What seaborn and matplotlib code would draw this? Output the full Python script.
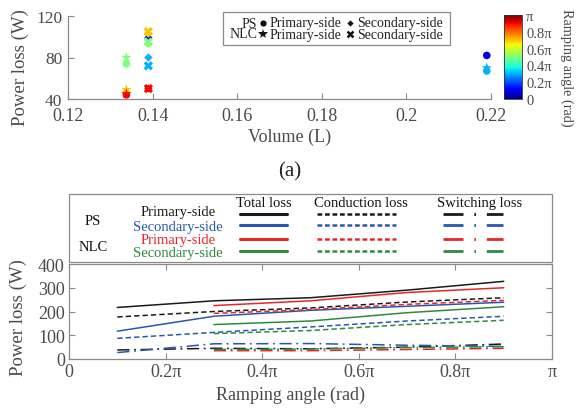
import numpy as np
import pandas as pd
import matplotlib
matplotlib.use("Agg")
import matplotlib.pyplot as plt
import seaborn as sns
from matplotlib.lines import Line2D
from matplotlib.patches import Rectangle
from matplotlib.colors import Normalize
from matplotlib.cm import ScalarMappable

# ---------------- data: (a) loss vs. volume ----------------
ps_pri_angle = [0.1, 0.3, 0.5, 0.7, 0.9]          # x pi rad
ps_pri_vol = [0.219, 0.219, 0.1338, 0.1338, 0.1338]
ps_pri_loss = [82, 67, 74, 46, 44]

ps_sec_angle = [0.1, 0.3, 0.5, 0.7, 0.9]
ps_sec_vol = [0.139, 0.139, 0.139, 0.139, 0.139]
ps_sec_loss = [99, 80, 93, 103, 50]

nlc_pri_angle = [0.3, 0.5, 0.7, 0.9]
nlc_pri_vol = [0.219, 0.1338, 0.1338, 0.1338]
nlc_pri_loss = [70, 80, 49, 45]

nlc_sec_angle = [0.3, 0.5, 0.7, 0.9]
nlc_sec_vol = [0.139, 0.139, 0.139, 0.139]
nlc_sec_loss = [72, 95, 105, 50]

vol_ticks = [0.12, 0.14, 0.16, 0.18, 0.20, 0.22]
vol_ticklabels = ["0.12", "0.14", "0.16", "0.18", "0.2", "0.22"]
loss_ticks_a = [40, 80, 120]
cbar_ticks = [0, 0.2, 0.4, 0.6, 0.8, 1.0]
cbar_ticklabels = ["0", "0.2π", "0.4π", "0.6π", "0.8π", "π"]

# ---------------- data: (b) loss vs. ramping angle ----------------
ps_angle = [0.1, 0.3, 0.5, 0.7, 0.9]     # x pi rad
nlc_angle = [0.3, 0.5, 0.7, 0.9]

ps_pri_total = [217, 245, 258, 290, 327]
ps_sec_total = [117, 180, 205, 222, 239]
nlc_pri_total = [225, 245, 280, 300]
nlc_sec_total = [145, 160, 195, 220]

ps_pri_cond = [177, 200, 215, 240, 258]
ps_sec_cond = [87, 112, 135, 160, 180]
nlc_pri_cond = [192, 208, 230, 247]
nlc_sec_cond = [107, 120, 145, 163]

ps_pri_sw = [38, 45, 43, 50, 63]
ps_sec_sw = [27, 64, 65, 58, 53]
nlc_pri_sw = [35, 35, 40, 45]
nlc_sec_sw = [40, 42, 48, 52]

angle_ticks = [0, 0.2, 0.4, 0.6, 0.8, 1.0]
angle_ticklabels = ["0", "0.2π", "0.4π", "0.6π", "0.8π", "π"]
loss_ticks_b = [0, 100, 200, 300, 400]

# ---------------- style ----------------
sns.set_theme(style="ticks")
plt.rcParams["font.family"] = ["Liberation Serif", "DejaVu Sans"]

W, H = 579, 410
fig = plt.figure(figsize=(W / 100, H / 100), dpi=100)


def fx(x):
    return x / W


def fy(y):
    return 1 - y / H


SPINE = "#8a8a8a"
TXT = "#4a4a4a"
C_BLACK = "#1a1a1a"
C_BLUE = "#2a56b0"
C_RED = "#e8262a"
C_GREEN = "#2f8a3c"
JET = matplotlib.colormaps["jet"]

# ---------------- (a) scatter ----------------
ax1 = fig.add_axes([fx(68), fy(100), fx(491) - fx(68), fy(17) - fy(100)])
norm = Normalize(0, 1)

groups = [
    (ps_pri_vol, ps_pri_loss, ps_pri_angle, "o", 30),
    (ps_sec_vol, ps_sec_loss, ps_sec_angle, "D", 18),
    (nlc_pri_vol, nlc_pri_loss, nlc_pri_angle, "*", 60),
    (nlc_sec_vol, nlc_sec_loss, nlc_sec_angle, "X", 45),
]
for vol, loss, ang, mk, sz in groups:
    df = pd.DataFrame({"vol": vol, "loss": loss, "angle": ang})
    sns.scatterplot(data=df, x="vol", y="loss", hue="angle", palette=JET,
                    hue_norm=norm, marker=mk, s=sz, linewidth=0,
                    legend=False, ax=ax1, zorder=3)

ax1.set_xlim(0.12, 0.22)
ax1.set_ylim(40, 120)
ax1.set_xticks(vol_ticks)
ax1.set_xticklabels(vol_ticklabels)
ax1.set_yticks(loss_ticks_a)
ax1.set_xlabel("")
ax1.set_ylabel("")
for s in ["top", "right"]:
    ax1.spines[s].set_visible(False)
for s in ["left", "bottom"]:
    ax1.spines[s].set_color(SPINE)
    ax1.spines[s].set_linewidth(0.9)
ax1.tick_params(direction="in", length=4, width=0.8, color=SPINE,
                labelsize=13, labelcolor=TXT)
ax1.tick_params(axis="x", pad=6)
ax1.tick_params(axis="y", pad=4, labelsize=12.5)

fig.text(fx(20), fy(68), "Power loss (W)", rotation=90, ha="center",
         va="center", fontsize=13.5, color=TXT)
fig.text(fx(290), fy(137), "Volume (L)", ha="center", va="center",
         fontsize=13, color=TXT)
fig.text(fx(290), fy(172), "(a)", ha="center", va="center",
         fontsize=15, color="#222222")

# legend box for (a)
fig.add_artist(Rectangle((fx(223), fy(46)), fx(450) - fx(223), fy(13) - fy(46),
                         transform=fig.transFigure, fill=False,
                         edgecolor=SPINE, linewidth=0.9))
lfs = 10
fig.text(fx(257), fy(29.5), "PS\nNLC", ha="right", va="center", ma="right",
         fontsize=lfs, color="#222", linespacing=0.8)
fig.text(fx(270), fy(29.5), "Primary-side\nPrimary-side", ha="left", va="center",
         fontsize=lfs, color="#222", linespacing=0.8)
fig.text(fx(357), fy(29.5), "Secondary-side\nSecondary-side", ha="left",
         va="center", fontsize=lfs, color="#222", linespacing=0.8)
for (xx, yy, mk, ms, mew) in [(263, 24, "o", 4.5, 0), (350, 24, "D", 3.2, 0),
                              (263, 35, "*", 7.5, 0), (350, 35, "x", 4.5, 1.8)]:
    fig.add_artist(Line2D([fx(xx)], [fy(yy)], transform=fig.transFigure,
                          marker=mk, markersize=ms, color="#111",
                          markeredgewidth=mew, linestyle="none"))

# colorbar
cax = fig.add_axes([fx(504), fy(100), fx(522) - fx(504), fy(16) - fy(100)])
cb = fig.colorbar(ScalarMappable(norm=norm, cmap=JET), cax=cax)
cb.set_ticks(cbar_ticks)
cb.set_ticklabels(cbar_ticklabels)
cb.outline.set_edgecolor("#333")
cb.outline.set_linewidth(0.6)
cax.tick_params(direction="in", length=0, labelsize=10.5, labelcolor=TXT, pad=3)
fig.text(fx(567), fy(68), "Ramping angle (rad)", rotation=-90, ha="center",
         va="center", fontsize=10.3, color=TXT)

# ---------------- (b) loss vs. ramping angle ----------------
ax2 = fig.add_axes([fx(69), fy(360), fx(552) - fx(69), fy(265) - fy(360)])

DASH = (0, (3.5, 2))
DASHDOT = (0, (8, 3, 1.2, 3))
series = [
    (ps_angle, ps_pri_total, C_BLACK, "-"),
    (nlc_angle, nlc_pri_total, C_RED, "-"),
    (ps_angle, ps_sec_total, C_BLUE, "-"),
    (nlc_angle, nlc_sec_total, C_GREEN, "-"),
    (ps_angle, ps_pri_cond, C_BLACK, DASH),
    (nlc_angle, nlc_pri_cond, C_RED, DASH),
    (ps_angle, ps_sec_cond, C_BLUE, DASH),
    (nlc_angle, nlc_sec_cond, C_GREEN, DASH),
    (ps_angle, ps_pri_sw, C_BLACK, DASHDOT),
    (ps_angle, ps_sec_sw, C_BLUE, DASHDOT),
    (nlc_angle, nlc_pri_sw, C_RED, DASHDOT),
    (nlc_angle, nlc_sec_sw, C_GREEN, DASHDOT),
]
for xs, ys, col, ls in series:
    sns.lineplot(x=np.array(xs), y=np.array(ys), color=col, linestyle=ls,
                 linewidth=1.1, ax=ax2)

ax2.set_xlim(0, 1)
ax2.set_ylim(0, 400)
ax2.set_xticks(angle_ticks)
ax2.set_xticklabels(angle_ticklabels)
ax2.set_yticks(loss_ticks_b)
ax2.set_xlabel("")
ax2.set_ylabel("")
for s in ax2.spines.values():
    s.set_color(SPINE)
    s.set_linewidth(0.9)
ax2.tick_params(direction="in", length=4, width=0.8, color=SPINE,
                labelsize=13, labelcolor=TXT, pad=3, top=True, right=True)

fig.text(fx(18), fy(318), "Power loss (W)", rotation=90, ha="center",
         va="center", fontsize=13.5, color=TXT)
fig.text(fx(290), fy(395), "Ramping angle (rad)", ha="center", va="center",
         fontsize=13, color=TXT)

# legend panel for (b)
fig.add_artist(Rectangle((fx(69), fy(263)), fx(552) - fx(69), fy(195) - fy(263),
                         transform=fig.transFigure, fill=False,
                         edgecolor=SPINE, linewidth=0.9))
bfs = 10.5
fig.text(fx(264), fy(204), "Total loss", ha="center", va="center", fontsize=bfs, color="#111")
fig.text(fx(361), fy(204), "Conduction loss", ha="center", va="center", fontsize=bfs, color="#111")
fig.text(fx(480), fy(204), "Switching loss", ha="center", va="center", fontsize=bfs, color="#111")
fig.text(fx(93), fy(222), "PS", ha="center", va="center", fontsize=bfs, color="#111")
fig.text(fx(93), fy(248), "NLC", ha="center", va="center", fontsize=bfs, color="#111")

rows = [(213, 215, "Primary-side", C_BLACK),
        (227, 226, "Secondary-side", C_BLUE),
        (241, 240, "Primary-side", C_RED),
        (254, 252, "Secondary-side", C_GREEN)]
for ty, ly, lab, col in rows:
    fig.text(fx(178), fy(ty), lab, ha="center", va="center", fontsize=bfs, color=col)
    fig.add_artist(Line2D([fx(240), fx(287)], [fy(ly), fy(ly)],
                          transform=fig.transFigure, color=col, linewidth=2.2))
    fig.add_artist(Line2D([fx(317), fx(396)], [fy(ly), fy(ly)],
                          transform=fig.transFigure, color=col, linewidth=1.8,
                          linestyle=(0, (1.9, 1.1))))
    fig.add_artist(Line2D([fx(443), fx(503)], [fy(ly), fy(ly)],
                          transform=fig.transFigure, color=col, linewidth=2.0,
                          linestyle=(0, (7.2, 3.9, 0.6, 3.9))))

fig.savefig("out.png", dpi=100)
